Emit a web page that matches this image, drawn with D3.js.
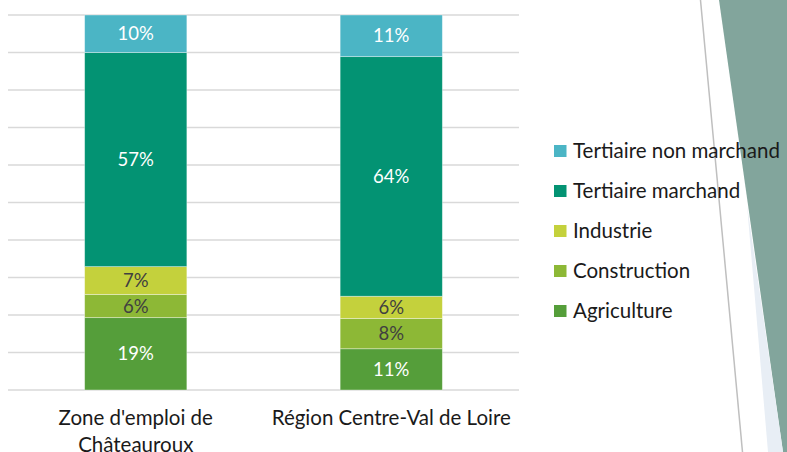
<!DOCTYPE html>
<html><head><meta charset="utf-8">
<script src="https://cdn.jsdelivr.net/npm/d3@7"></script>
<style>body{margin:0;background:#fff;}svg{display:block;font-family:Lato,"Open Sans",sans-serif;}</style>
</head><body>
<svg id="c" width="787" height="452"></svg>
<script>
const categories = ["Zone d'emploi de\nChâteauroux", "Région Centre-Val de Loire"];
const seriesNames = ["Agriculture", "Construction", "Industrie", "Tertiaire marchand", "Tertiaire non marchand"];
const agriculture = [19.3, 11.0];
const construction = [6.2, 8.1];
const industrie = [7.4, 5.9];
const tertiaireMarchand = [57.1, 63.9];
const tertiaireNonMarchand = [10.0, 11.1];
const yTicks = [0,10,20,30,40,50,60,70,80,90,100];

const colors = {"Agriculture":"#559E3A","Construction":"#8DB836","Industrie":"#C4D13C","Tertiaire marchand":"#039373","Tertiaire non marchand":"#4BB5C5"};
const labelColors = {"Agriculture":"#fff","Construction":"#404040","Industrie":"#404040","Tertiaire marchand":"#fff","Tertiaire non marchand":"#fff"};

const svg = d3.select("#c");

// background decoration
svg.append("polygon").attr("points","719,0 787,0 787,452 783,452").attr("fill","#82A59C");
svg.append("polygon").attr("points","747,205 783,452 768,452").attr("fill","#E8EEF5");
svg.append("line").attr("x1",700.5).attr("y1",0).attr("x2",742.5).attr("y2",452).attr("stroke","#BFBFBF").attr("stroke-width",1.5);

const values = [agriculture, construction, industrie, tertiaireMarchand, tertiaireNonMarchand];
const rows = categories.map((c,i)=>{const o={cat:c}; seriesNames.forEach((s,j)=>o[s]=values[j][i]); return o;});
const stack = d3.stack().keys(seriesNames)(rows);

const x = d3.scaleBand().domain(categories).range([8,519]).paddingInner(0.6).paddingOuter(0.3);
const y = d3.scaleLinear().domain([0,100]).range([390,15]);

svg.append("g").selectAll("line").data(yTicks).join("line")
  .attr("x1",8).attr("x2",519).attr("y1",d=>y(d)).attr("y2",d=>y(d))
  .attr("stroke","#D9D9D9").attr("stroke-width",1.3);

const g = svg.append("g");
stack.forEach(layer=>{
  const key = layer.key;
  g.append("g").selectAll("rect").data(layer).join("rect")
    .attr("x",d=>x(d.data.cat)).attr("width",x.bandwidth())
    .attr("y",d=>y(d[1])).attr("height",d=>y(d[0])-y(d[1]))
    .attr("fill",colors[key]).attr("stroke","rgba(255,255,255,0.45)").attr("stroke-width",0.8);
  g.append("g").selectAll("text").data(layer).join("text")
    .attr("x",d=>x(d.data.cat)+x.bandwidth()/2)
    .attr("y",d=>(y(d[0])+y(d[1]))/2)
    .attr("dy","0.36em").attr("text-anchor","middle")
    .attr("font-size",18.5).attr("fill",labelColors[key])
    .text(d=>Math.round(d[1]-d[0])+"%");
});

// category labels
const cl = svg.append("g");
categories.forEach(c=>{
  const lines = c.split("\n");
  const t = cl.append("text").attr("x",x(c)+x.bandwidth()/2).attr("y",425)
    .attr("text-anchor","middle").attr("font-size",20.5).attr("fill","#1a1a1a");
  lines.forEach((l,i)=>t.append("tspan").attr("x",x(c)+x.bandwidth()/2).attr("dy",i?27:0).text(l));
});

// legend
const legendOrder = seriesNames.slice().reverse();
const lg = svg.append("g");
legendOrder.forEach((s,i)=>{
  const cy = 151 + i*40;
  lg.append("rect").attr("x",554).attr("y",cy-6).attr("width",12.5).attr("height",12).attr("fill",colors[s]);
  lg.append("text").attr("x",573).attr("y",cy).attr("dy","0.36em").attr("font-size",20.5).attr("fill","#1a1a1a").text(s);
});
</script>
</body></html>
